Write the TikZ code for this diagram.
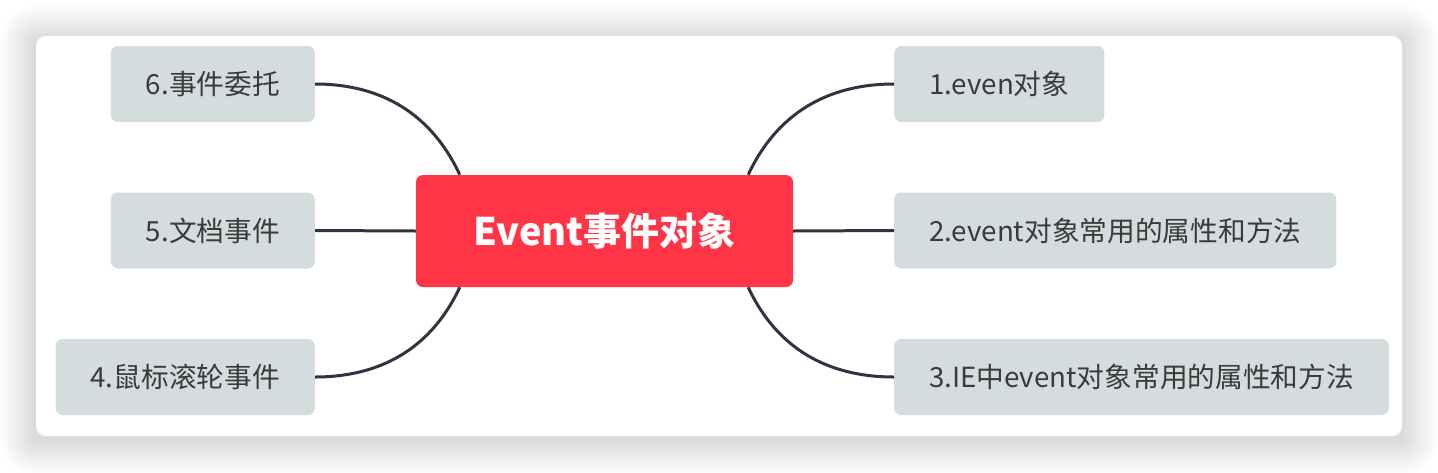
\documentclass[tikz,border=0pt]{standalone}
\usepackage{fontspec}
\setmainfont{Noto Sans CJK SC}
\usetikzlibrary{positioning}
\definecolor{zhuticolor}{HTML}{FF3547}
\definecolor{fenzhicolor}{HTML}{D5DCDE}
\definecolor{xiancolor}{HTML}{2F3540}
\definecolor{zicolor}{HTML}{3A3A3A}

\begin{document}
\begin{tikzpicture}[x=1pt, y=-1pt,
  zhongxin/.style={fill=zhuticolor, rounded corners=7pt, minimum width=377pt, minimum height=112pt, text=white, font=\fontsize{38}{46}\selectfont\bfseries},
  fenzhi/.style={fill=fenzhicolor, rounded corners=7pt, minimum height=76pt, inner xsep=35pt, text=zicolor, font=\fontsize{27.7}{34}\selectfont},
  lianxian/.style={draw=xiancolor, line width=3pt}]
\useasboundingbox (0,0) rectangle (1438,472);
% 阴影
\foreach \s in {2,4,...,36}
  \fill[black, opacity=0.007, rounded corners=\s pt] (36-\s,41-\s) rectangle (1402+\s,439+\s);
% 画布
\fill[white, rounded corners=10pt] (36,36) rectangle (1402,436);
% 中心主题
\node[zhongxin] (zhongxin) at (604.5,231) {Event事件对象};
% 右侧分支
\node[fenzhi, anchor=west] (fz1) at (894,84) {1.even对象};
\node[fenzhi, anchor=west] (fz2) at (894,230.5) {2.event对象常用的属性和方法};
\node[fenzhi, anchor=west] (fz3) at (894,377) {3.IE中event对象常用的属性和方法};
% 左侧分支
\node[fenzhi, anchor=east] (fz4) at (315,377) {4.鼠标滚轮事件};
\node[fenzhi, anchor=east] (fz5) at (315,230.5) {5.文档事件};
\node[fenzhi, anchor=east] (fz6) at (315,84) {6.事件委托};
% 连线
\draw[lianxian] ([xshift=-45pt]zhongxin.north east) to[out=65, in=180] (fz1.west);
\draw[lianxian] (zhongxin.east) -- (fz2.west);
\draw[lianxian] ([xshift=-45pt]zhongxin.south east) to[out=-65, in=180] (fz3.west);
\draw[lianxian] ([xshift=44pt]zhongxin.south west) to[out=-115, in=0] (fz4.east);
\draw[lianxian] (zhongxin.west) -- (fz5.east);
\draw[lianxian] ([xshift=44pt]zhongxin.north west) to[out=115, in=0] (fz6.east);
\end{tikzpicture}
\end{document}
